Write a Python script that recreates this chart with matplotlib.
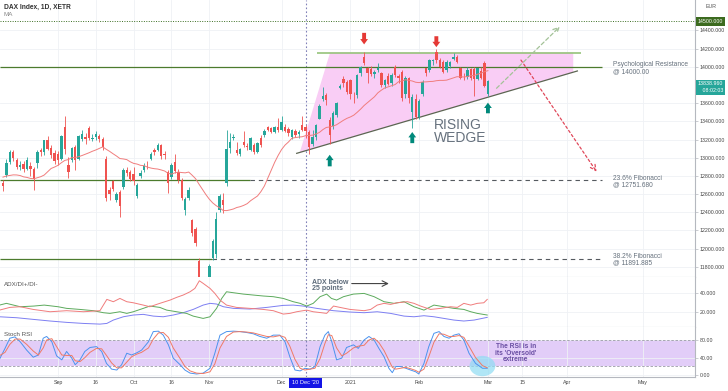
import numpy as np
import pandas as pd
import matplotlib
matplotlib.use('Agg')
import matplotlib.pyplot as plt
from matplotlib.patches import Polygon, Ellipse
from matplotlib.transforms import blended_transform_factory as btf

plt.rcParams['font.family'] = ['Liberation Sans', 'DejaVu Sans']

# ---------------- data ----------------
first_session = -16   # Aug 10 2020; session 0 = Sep 1 2020
opens = [12720, 12810, 12950, 13060, 12980, 12900, 12930, 12880, 12910, 12880,
         12940, 13080, 13060, 13200, 13110, 13050, 13040, 12990, 13340, 12920,
         12975, 13120, 12990, 13210, 13230, 13330, 13210, 13225, 13240, 13210,
         12990, 12640, 12745, 12540, 12620, 12675, 12860, 12840, 12820, 12580,
         12800, 12865, 12930, 12990, 13080, 13085, 13140, 13040, 12846, 12790,
         12956, 12846, 12755, 12430, 12560, 12310, 12220, 11860, 11560, 11620,
         11620, 11900, 11940, 12425, 12535, 12720, 13110, 13215, 13085, 13037,
         13176, 13130, 13085, 13140, 13066, 13220, 13249, 13341, 13322, 13286,
         13340, 13300, 13341, 13315, 13231, 13293, 13265, 13359, 13341, 13280,
         13150, 13230, 13430, 13650, 13690, 13410, 13350, 13470, 13770, 13870,
         13835, 13850, 13690, 13690, 13930, 14110, 13982, 13980, 13915, 13960,
         13927, 13800, 13900, 13820, 14000, 13900, 13945, 13700, 13872, 13506,
         13640, 13450, 13700, 13982, 13960, 14060, 14165, 14073, 14055, 13960,
         14010, 14090, 14110, 13990, 13890, 13886, 13970, 13980, 13870, 13950,
         14044, 13700]
highs = [12760, 12990, 13080, 13090, 13000, 12960, 12960, 13010, 12950, 12900,
         13080, 13110, 13200, 13240, 13140, 13080, 13070, 13250, 13460, 13010,
         13120, 13140, 13250, 13300, 13270, 13345, 13260, 13290, 13260, 13230,
         13020, 12680, 12760, 12620, 12650, 12890, 12900, 12870, 12900, 12720,
         12870, 12940, 12960, 13060, 13110, 13160, 13150, 13070, 12870, 12940,
         13040, 12880, 12780, 12570, 12680, 12330, 12240, 11900, 11680, 11680,
         11830, 12110, 12400, 12600, 12610, 13300, 13270, 13260, 13170, 13110,
         13290, 13160, 13230, 13160, 13170, 13250, 13310, 13350, 13340, 13350,
         13440, 13460, 13370, 13340, 13310, 13320, 13300, 13462, 13360, 13300,
         13300, 13370, 13590, 13780, 13710, 13450, 13510, 13610, 13810, 13900,
         13850, 13870, 13720, 13920, 14010, 14165, 14000, 14010, 13960, 14040,
         13940, 13870, 13930, 13930, 14020, 13920, 13960, 13900, 13890, 13700,
         13700, 13650, 13850, 13990, 14080, 14090, 14200, 14100, 14070, 14070,
         14060, 14150, 14130, 14000, 13930, 14000, 13990, 14000, 13990, 14000,
         14060, 13850]
lows = [12630, 12790, 12930, 12960, 12880, 12870, 12840, 12860, 12800, 12640,
        12890, 13020, 13030, 13080, 13000, 12930, 12920, 12970, 13040, 12780,
        12950, 12870, 12970, 13180, 13150, 13190, 13180, 13200, 13170, 13090,
        12520, 12540, 12630, 12510, 12350, 12660, 12800, 12740, 12700, 12560,
        12780, 12840, 12880, 12970, 13030, 13070, 12990, 12990, 12610, 12770,
        12830, 12720, 12530, 12370, 12540, 12140, 12030, 11450, 11450, 11450,
        11600, 11880, 11900, 12400, 12390, 12690, 13050, 13190, 13030, 13020,
        13120, 13090, 13070, 13040, 13050, 13120, 13230, 13290, 13270, 13270,
        13280, 13290, 13280, 13240, 13210, 13230, 13220, 13290, 13220, 13040,
        13130, 13200, 13420, 13620, 13580, 13150, 13320, 13450, 13750, 13780,
        13700, 13640, 13600, 13660, 13900, 14020, 13817, 13900, 13880, 13940,
        13780, 13770, 13800, 13790, 13890, 13820, 13620, 13660, 13600, 13322,
        13420, 13420, 13680, 13900, 13940, 14020, 14040, 13990, 13930, 13940,
        13990, 14070, 14040, 13860, 13850, 13870, 13850, 13680, 13850, 13870,
        13780, 13680]
closes = [12687, 12946, 13058, 12993, 12901, 12920, 12881, 12977, 12880, 12770,
          13067, 13061, 13190, 13100, 13030, 12960, 12975, 13243, 13100, 12846,
          13110, 12980, 13238, 13255, 13202, 13213, 13220, 13260, 13208, 13116,
          12553, 12600, 12660, 12606, 12469, 12870, 12830, 12770, 12740, 12700,
          12828, 12910, 12928, 13042, 13060, 13138, 13019, 13028, 12718, 12915,
          12854, 12750, 12558, 12543, 12646, 12177, 12064, 11561, 11598, 11556,
          11810, 12090, 12324, 12580, 12480, 13100, 13176, 13231, 13048, 13092,
          13140, 13121, 13213, 13066, 13158, 13140, 13293, 13304, 13286, 13341,
          13304, 13396, 13293, 13268, 13304, 13249, 13285, 13304, 13293, 13121,
          13223, 13360, 13570, 13680, 13635, 13250, 13490, 13597, 13790, 13817,
          13725, 13700, 13689, 13908, 14000, 14037, 13927, 13925, 13945, 13990,
          13799, 13850, 13815, 13910, 13908, 13873, 13652, 13880, 13652, 13671,
          13450, 13622, 13835, 13927, 14073, 14070, 14073, 14000, 13940, 14050,
          14050, 14110, 14055, 13872, 13886, 13960, 13872, 13864, 13982, 13880,
          13790, 13839]
# closes of the 19 sessions before the first visible bar (for the 20-day MA)
warmup_closes = [12697, 12931, 12874, 12920, 13046, 13171, 13104, 13103, 12838, 12838,
                 12835, 12822, 12379, 12313, 12647, 12600, 12660, 12591, 12674]
ma_period = 20

# ADX / DI+ / DI- (session, value)
plus_idx = [-17, -15, -11, -7, -4, 0, 2.5, 6.4, 10.3, 13.2, 15.1, 18, 20, 21.9, 24.8, 26.7, 29.6, 31.6,
            34.5, 37.4, 39.3, 42.2, 44.2, 46.1, 47.6, 49, 51, 53.9, 56.8, 59.7, 62.6, 65.5, 68.4, 70.4,
            72.3, 74.2, 76.2, 78.1, 79.5, 81, 83, 85.9, 89, 91.9, 94.8, 97.7, 100.6, 103.5, 106.4,
            109.3, 112.2, 115.1, 118, 120, 121.9, 124.8]
plus_val = [27.2, 29.0, 25.5, 26.2, 27.2, 25.5, 23.8, 22.7, 21.4, 19.3, 18.6, 20.3, 18.6, 20.3, 23.8,
            26.2, 24.8, 22.0, 20.3, 18.6, 15.8, 13.4, 15.1, 23.8, 34.1, 41.0, 40.0, 38.6, 37.6, 36.6,
            35.9, 34.1, 30.7, 29.0, 26.2, 29.0, 35.9, 38.6, 34.1, 32.4, 35.9, 38.6, 39.3, 35.9, 30.7,
            29.0, 30.7, 25.5, 22.0, 27.2, 25.5, 23.8, 22.7, 20.3, 18.6, 16.9]
minus_idx = [-17, -14, -11, -7.2, -2.3, 2.5, 7.4, 12.2, 14.2, 16.1, 18, 20, 21.9, 24.8, 26.7, 29.6,
             32.6, 34.5, 36.4, 38.4, 39.8, 41.1, 42.2, 44.2, 45.6, 47.1, 49, 51.9, 55.8, 59.7, 62.6,
             65.5, 67.4, 69.4, 72.3, 74.2, 76.6, 78.1, 80.1, 82, 84.9, 89, 90.9, 92.8, 94.8, 96.7,
             98.6, 101.6, 103.5, 105.4, 108.3, 111.2, 114.1, 116.1, 118, 120, 121.9, 123.8, 124.8]
minus_val = [22.0, 24.8, 25.5, 22.7, 20.3, 21.4, 20.3, 21.4, 33.1, 30.7, 34.1, 30.7, 29.6, 27.2,
             25.5, 29.0, 32.4, 35.2, 37.6, 41.0, 44.5, 52.4, 49.7, 44.5, 39.3, 32.4, 27.2, 24.8,
             23.8, 22.7, 21.4, 17.9, 18.6, 20.3, 22.0, 20.3, 19.3, 18.6, 26.2, 24.8, 22.7, 21.4,
             22.7, 27.2, 29.0, 27.9, 29.6, 30.7, 29.0, 26.2, 22.7, 23.8, 25.5, 24.8, 29.0, 27.2,
             29.0, 29.6, 33.1]
adx_idx = [-17, -12, -7.2, -2.3, 2.5, 7.4, 12.2, 14.2, 16.1, 19, 21.9, 24.8, 27.7, 30.6, 33.5, 36.4,
           39.3, 42.2, 44.2, 46.1, 48.1, 51, 55.8, 60.7, 65.5, 68.4, 71.3, 75.2, 80.1, 84.9, 89,
           92.8, 96.7, 100.6, 103.5, 106.4, 109.3, 112.2, 115.1, 118, 121, 124.8]
adx_val = [15.1, 14.1, 12.4, 10.7, 9.3, 8.2, 7.5, 8.2, 11.7, 15.1, 16.9, 17.6, 15.8, 15.1, 16.9,
           19.3, 22.7, 27.2, 29.0, 28.3, 25.5, 23.8, 23.1, 24.8, 26.9, 27.2, 26.2, 23.8, 21.4,
           20.0, 19.3, 20.3, 18.6, 15.8, 15.1, 16.2, 15.1, 13.4, 11.7, 10.7, 11.7, 14.5]

# Stoch RSI (session, %K, %D)
stoch_idx = [-16.9, -15.4, -14, -12.5, -11, -9.1, -7.2, -5.7, -4.3, -3.3, -1.8, -0.4, 1.1, 2.5, 4, 5,
             6.4, 7.8, 9.3, 11.2, 12.7, 14.1, 15.6, 17.1, 18.5, 20, 21.4, 22.9, 24.3, 26.3, 27.7,
             29.2, 30.6, 32.1, 33.5, 35.5, 36.9, 38.4, 40.3, 42.2, 44.2, 45.6, 47.1, 49, 51, 52.9,
             54.8, 56.8, 58.7, 60.7, 62.6, 64.5, 66, 67.4, 68.9, 70.4, 71.8, 73.3, 74.7, 76.2, 77.6,
             78.6, 79.6, 81, 82.5, 83.9, 85.9, 87.3, 89, 90.4, 91.9, 93.3, 94.8, 96.2, 97.2, 98.2,
             99.6, 101.1, 102.5, 104, 104.9, 106.4, 107.8, 109.3, 110.8, 112.2, 113.7, 115.1, 116.6,
             118, 119.5, 121.4, 123.4, 124.8]
stoch_k = [38, 61, 84, 87, 76, 57, 41, 46, 84, 88, 76, 44, 35, 54, 39, 24, 35, 54, 63, 65,
           54, 27, 14, 12, 24, 50, 46, 51, 57, 76, 99, 100, 91, 69, 39, 24, 12, 5, 3, 5,
           16, 50, 91, 99, 100, 99, 97, 94, 88, 84, 91, 91, 76, 42, 12, 10, 16, 14, 20, 65,
           91, 99, 76, 35, 39, 63, 69, 61, 80,
           88, 80, 61, 42, 16, 6, 20, 20, 16, 12, 8, 3, 27, 65, 95, 99, 88, 84, 91, 94,
           80, 50, 27, 16, 16]
stoch_d = [45, 52, 70, 82, 82, 70, 55, 46, 62, 80, 83, 65, 46, 45, 45, 33, 31, 40, 52, 61,
           60, 45, 28, 17, 17, 30, 42, 48, 52, 62, 82, 96, 97, 86, 62, 38, 20, 10, 5, 4,
           8, 26, 62, 88, 98, 99, 98, 96, 92, 88, 87, 90, 86, 66, 36, 16, 12, 14, 16, 38,
           72, 92, 90, 62, 44, 50, 62, 66, 68,
           80, 84, 74, 56, 34, 18, 14, 16, 18, 15, 11, 7, 14, 42, 75, 94, 93, 88, 88, 90,
           86, 66, 40, 22, 17]

tick_sessions = [0, 11, 22, 33, 44, 65, 85, 105, 125, 135, 148, 170]
tick_labels = ['Sep', '16', 'Oct', '16', 'Nov', 'Dec', '2021', 'Feb', 'Mar', '15', 'Apr', 'May']
marked_session = 72
marked_label = "10 Dec '20"
price_ticks = [11800, 12000, 12200, 12400, 12600, 12800, 13000, 13200, 13400, 13600, 14000, 14200, 14400]

resistance = 14000.00
fib_236 = 12751.680
fib_382 = 11891.885
round_level = 14500.0
wedge_top = 14154
wedge_low = [(69.4, 13048), (151.0, 13953)]
last_price = 13838.960
countdown = '08:02:03'

# ---------------- figure ----------------
W, H = 728, 391
fig = plt.figure(figsize=(W / 100, H / 100), dpi=100)
RX = 695


def rect(t, b):
    return [0, 1 - b / H, RX / W, (b - t) / H]


ax = fig.add_axes(rect(0, 277))
ax2 = fig.add_axes(rect(277, 327))
ax3 = fig.add_axes(rect(327, 377))
XL = (-16.86, 185.2)
axis_col = '#b5b8bf'
for a in (ax, ax2, ax3):
    a.set_xlim(*XL)
    a.spines['top'].set_visible(False)
    a.spines['left'].set_visible(False)
    a.spines['right'].set_color(axis_col)
    a.spines['bottom'].set_color(axis_col)
    a.spines['right'].set_linewidth(0.8)
    a.spines['bottom'].set_linewidth(0.8)
    a.yaxis.tick_right()
    a.tick_params(axis='y', labelsize=3.8, length=2, width=0.5, color=axis_col,
                  labelcolor='#444444', pad=1.5)
    a.set_xticks(tick_sessions)
    a.grid(True, color='#eff1f5', lw=0.6, zorder=0)
    a.set_axisbelow(True)
    a.axvline(marked_session, color='#8080b8', ls=(0, (1.5, 2)), lw=0.8, zorder=1)
ax.tick_params(axis='x', length=0, labelbottom=False)
ax2.tick_params(axis='x', length=0, labelbottom=False)
ax3.set_xticklabels(tick_labels)
ax3.tick_params(axis='x', length=0, labelsize=3.8, labelcolor='#444444', pad=2.5)

# ---------------- main price panel ----------------
ax.set_ylim(11689, 14733)
ax.set_yticks(price_ticks)
ax.set_yticklabels([f'{v:.3f}' for v in price_ticks])

sess = np.arange(len(closes)) + first_session
o = np.array(opens, float); h = np.array(highs, float)
l = np.array(lows, float); c = np.array(closes, float)
up = c >= o
cols = np.where(up, '#26a69a', '#ef5350')
top = np.maximum.reduce([h, o, c]); bot = np.minimum.reduce([l, o, c])
ax.vlines(sess, bot, top, colors=cols, lw=0.6, zorder=4)
ax.bar(sess, np.maximum(np.abs(c - o), 5), bottom=np.minimum(o, c), width=0.7,
       color=cols, lw=0, zorder=5)

ma = pd.Series(warmup_closes + closes).rolling(ma_period).mean().to_numpy()[len(warmup_closes):]
ax.plot(sess, ma, color='#f07d7d', lw=0.7, zorder=6)

# wedge
(x0, y0), (x1, y1) = wedge_low
slope = (y1 - y0) / (x1 - x0)
lowline = lambda x: y0 + (x - x0) * slope
poly = Polygon([(70.3, lowline(70.3)), (79.1, wedge_top), (149.8, wedge_top), (149.8, lowline(149.8))],
               closed=True, fc='#f9cdf5', ec='none', zorder=1)
ax.add_patch(poly)
ax.plot([x0, x1], [y0, y1], color='#5c6552', lw=0.9, zorder=3)
ax.hlines(wedge_top, 75.3, 152, color='#96c37a', lw=1.2, zorder=3)

# levels
green = '#4c7b2d'
ax.axhline(round_level, color='#3b6e22', ls=(0, (1, 1.5)), lw=0.7, zorder=2)
ax.hlines(resistance, XL[0], 158.1, color=green, lw=0.9, zorder=2)
ax.hlines(fib_236, XL[0], 55.8, color=green, lw=0.9, zorder=2)
ax.hlines(fib_236, 55.8, 158.1, color='#555a5f', lw=0.8, ls=(0, (4, 3.5)), zorder=2)
ax.hlines(fib_382, XL[0], 44.8, color=green, lw=0.9, zorder=2)
ax.hlines(fib_382, 44.8, 158.1, color='#555a5f', lw=0.8, ls=(0, (4, 3.5)), zorder=2)

# projected paths
ax.annotate('', xy=(145.9, 14440), xytext=(127.5, 13763),
            arrowprops=dict(arrowstyle='->', ls=(0, (3, 2)), color='#a3c297', lw=0.9,
                            shrinkA=0, shrinkB=0), zorder=3)
ax.annotate('', xy=(156.6, 12846), xytext=(134.6, 14073),
            arrowprops=dict(arrowstyle='->', ls=(0, (2, 2)), color='#e0485a', lw=0.9,
                            shrinkA=0, shrinkB=0), zorder=3)


def block_arrow(x, tail, tip, color):
    ax.annotate('', xy=(x, tip), xytext=(x, tail),
                arrowprops=dict(arrowstyle='simple,head_length=0.55,head_width=0.8,tail_width=0.4',
                                fc=color, ec=color, lw=0, mutation_scale=7, shrinkA=0, shrinkB=0),
                zorder=7)


block_arrow(89, 14372, 14245, '#e53935')
block_arrow(110, 14335, 14215, '#e53935')
block_arrow(79, 12905, 13032, '#00897b')
block_arrow(103, 13160, 13282, '#00897b')
block_arrow(125, 13488, 13605, '#00897b')

txt = '#66717d'
ax.text(109.3, 13290, 'RISING\nWEDGE', fontsize=10, color=txt, ha='left', va='center',
        linespacing=0.95, zorder=8)
ax.text(161.3, 13986, 'Psychological Resistance\n@ 14000.00', fontsize=4.8, color=txt,
        ha='left', va='center', linespacing=0.95)
ax.text(161.3, 12738, '23.6% Fibonacci\n@ 12751.680', fontsize=4.8, color=txt,
        ha='left', va='center', linespacing=0.95)
ax.text(161.3, 11879, '38.2% Fibonacci\n@ 11891.885', fontsize=4.8, color=txt,
        ha='left', va='center', linespacing=0.95)

tr = btf(ax.transAxes, ax.transData)
ax.text(1.004, round_level, f'{round_level:.3f}', transform=tr, fontsize=3.8, color='white',
        ha='left', va='center', bbox=dict(boxstyle='square,pad=0.35', fc='#3c6b1f', ec='none'))
ax.text(1.004, last_price, f'{last_price:.3f}\n   {countdown}', transform=tr, fontsize=3.8,
        color='white', ha='left', va='top', linespacing=1.4,
        bbox=dict(boxstyle='square,pad=0.35', fc='#26a69a', ec='none'))
ax.set_ylim(11689, 14733)

# ---------------- ADX panel ----------------
ax2.set_ylim(4.5, 56.3)
ax2.set_yticks([20, 40])
ax2.set_yticklabels(['20.000', '40.000'])
ax2.plot(adx_idx, adx_val, color='#7d7ff2', lw=0.7, zorder=3)
ax2.plot(plus_idx, plus_val, color='#5caa5c', lw=0.7, zorder=3)
ax2.plot(minus_idx, minus_val, color='#f07c7c', lw=0.7, zorder=3)
ax2.text(73.8, 47.5, 'ADX below\n25 points', fontsize=5, color='#5d6b7a', weight='bold',
         ha='left', va='center', linespacing=0.95)
ax2.annotate('', xy=(96.2, 49.5), xytext=(85.4, 49.5),
             arrowprops=dict(arrowstyle='->', color='#444444', lw=0.8, shrinkA=0, shrinkB=0))

# ---------------- Stoch RSI panel ----------------
ax3.set_ylim(-3.8, 109.4)
ax3.set_yticks([0, 40, 80])
ax3.set_yticklabels(['0.00', '40.00', '80.00'])
ax3.axhspan(20, 80, color='#e2cdf8', zorder=0.5, lw=0)
ax3.axhline(80, color='#9a9aa6', ls=(0, (3, 2)), lw=0.6, zorder=1)
ax3.axhline(20, color='#9a9aa6', ls=(0, (3, 2)), lw=0.6, zorder=1)
ax3.add_patch(Ellipse((123.4, 21), 7.5, 46, angle=0, fc='#8fdcf3', ec='none', alpha=0.7, zorder=1.5))
ax3.plot(stoch_idx, stoch_k, color='#4b93ee', lw=0.7, zorder=3)
ax3.plot(stoch_idx, stoch_d, color='#f07a66', lw=0.7, zorder=3)
ax3.text(133.1, 50, "The RSI is in\nits 'Oversold'\nextreme", fontsize=4.8, color='#6a4ea3',
         ha='center', va='center', linespacing=0.95, weight='bold')
trx = btf(ax3.transData, ax3.transAxes)
ax3.text(marked_session, -0.12, marked_label, transform=trx, fontsize=4.1, color='white',
         ha='center', va='center', bbox=dict(boxstyle='square,pad=0.5', fc='#1414e6', ec='none'))

# ---------------- header texts ----------------
fig.text(4 / W, 1 - 7 / H, 'DAX Index, 1D, XETR', fontsize=4.8, color='#333333', weight='bold',
         ha='left', va='center')
fig.text(4 / W, 1 - 15 / H, 'MA', fontsize=4.5, color='#888888', ha='left', va='center')
fig.text(4 / W, 1 - 284 / H, 'ADX/DI+/DI-', fontsize=4.5, color='#555555', ha='left', va='center')
fig.text(4 / W, 1 - 335 / H, 'Stoch RSI', fontsize=4.5, color='#555555', ha='left', va='center')
fig.text(711 / W, 1 - 7 / H, 'EUR', fontsize=3.8, color='#555555', ha='center', va='center')

fig.savefig('out.png', dpi=100, facecolor='white')
